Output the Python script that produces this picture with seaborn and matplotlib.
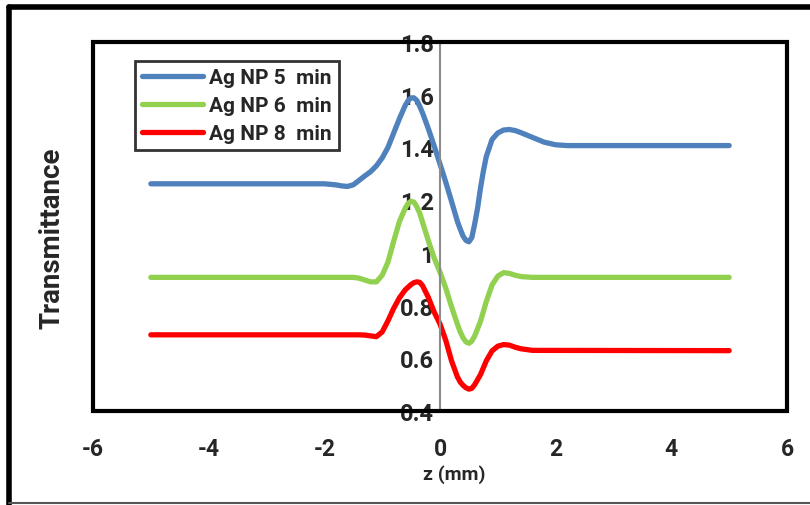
import matplotlib
matplotlib.use('Agg')

import numpy as np
import pandas as pd
import matplotlib.pyplot as plt
import seaborn as sns
from matplotlib.patches import Rectangle
from matplotlib.lines import Line2D

# z position (mm) and transmittance
z5 = [-5, -2, -1.8, -1.7, -1.6, -1.5, -1.4, -1.3, -1.2, -1.1, -1.0, -0.9, -0.8, -0.7,
      -0.6, -0.55, -0.5, -0.45, -0.4, -0.35, -0.3, -0.2, -0.1, 0, 0.1, 0.2, 0.3, 0.35,
      0.4, 0.45, 0.5, 0.55, 0.6, 0.65, 0.7, 0.75, 0.8, 0.9, 1.0, 1.1, 1.2, 1.3, 1.4,
      1.6, 1.8, 2.0, 2.2, 5]
t5 = [1.262, 1.262, 1.258, 1.254, 1.252, 1.258, 1.275, 1.292, 1.308, 1.330, 1.360,
      1.400, 1.455, 1.510, 1.560, 1.578, 1.588, 1.588, 1.578, 1.556, 1.530, 1.470,
      1.405, 1.337, 1.268, 1.195, 1.120, 1.090, 1.063, 1.047, 1.042, 1.058, 1.110,
      1.170, 1.245, 1.310, 1.365, 1.430, 1.455, 1.466, 1.468, 1.464, 1.456, 1.438,
      1.420, 1.410, 1.407, 1.407]

z6 = [-5, -1.5, -1.4, -1.3, -1.2, -1.1, -1.0, -0.9, -0.8, -0.7, -0.6, -0.55, -0.5,
      -0.45, -0.4, -0.35, -0.3, -0.2, -0.1, 0, 0.1, 0.2, 0.3, 0.35, 0.4, 0.45, 0.5,
      0.55, 0.6, 0.7, 0.8, 0.9, 1.0, 1.1, 1.2, 1.3, 1.4, 1.6, 5]
t6 = [0.907, 0.907, 0.904, 0.897, 0.890, 0.890, 0.915, 0.965, 1.045, 1.120, 1.170,
      1.188, 1.196, 1.192, 1.175, 1.150, 1.115, 1.045, 0.980, 0.927, 0.866, 0.795,
      0.730, 0.700, 0.677, 0.662, 0.657, 0.665, 0.685, 0.740, 0.815, 0.878, 0.912,
      0.925, 0.922, 0.915, 0.910, 0.907, 0.907]

z8 = [-5, -1.4, -1.3, -1.2, -1.1, -1.0, -0.9, -0.8, -0.7, -0.6, -0.5, -0.45, -0.4,
      -0.35, -0.3, -0.2, -0.1, 0, 0.1, 0.2, 0.3, 0.35, 0.4, 0.45, 0.5, 0.55, 0.6,
      0.7, 0.8, 0.9, 1.0, 1.1, 1.2, 1.3, 1.4, 1.6, 5]
t8 = [0.689, 0.689, 0.688, 0.685, 0.682, 0.700, 0.742, 0.790, 0.830, 0.860, 0.880,
      0.887, 0.890, 0.888, 0.875, 0.830, 0.775, 0.730, 0.668, 0.590, 0.530, 0.510,
      0.497, 0.488, 0.483, 0.486, 0.500, 0.538, 0.590, 0.628, 0.646, 0.652, 0.650,
      0.642, 0.636, 0.630, 0.629]

labels = ['Ag NP 5  min', 'Ag NP 6  min', 'Ag NP 8  min']
colors = ['#4F81BD', '#92D050', '#FF0000']
xticks = [-6, -4, -2, 0, 2, 4, 6]
yticks = [0.4, 0.6, 0.8, 1.0, 1.2, 1.4, 1.6, 1.8]
ytick_labels = ['0.4', '0.6', '0.8', '1', '1.2', '1.4', '1.6', '1.8']

df = pd.concat([
    pd.DataFrame({'z': zz, 'T': tt, 'sample': lab})
    for zz, tt, lab in zip([z5, z6, z8], [t5, t6, t8], labels)
])

sns.set_style('white')
plt.rcParams['font.family'] = ['Roboto', 'DejaVu Sans']
plt.rcParams['font.weight'] = 'bold'

fig = plt.figure(figsize=(8.1, 5.06), dpi=100)
ax = fig.add_axes([93 / 810, 1 - 412 / 506, 694 / 810, 369 / 506])

sns.lineplot(data=df, x='z', y='T', hue='sample', palette=colors,
             linewidth=3.8, ax=ax, legend=False, sort=False)
for ln in ax.lines:
    ln.set_solid_joinstyle('round')
    ln.set_solid_capstyle('round')

# Excel style axes: y axis crossing at z=0 (set before the ticks, it resets them)
for s in ['top', 'right']:
    ax.spines[s].set_visible(False)
ax.spines['left'].set_position(('data', 0))
ax.spines['left'].set_color('#8c8c8c')
ax.spines['left'].set_linewidth(1.5)
ax.spines['bottom'].set_color('#8c8c8c')
ax.spines['bottom'].set_linewidth(1.5)

ax.set_xlim(-6, 6)
ax.set_ylim(0.4, 1.8)
ax.set_xticks(xticks)
ax.set_yticks(yticks)
ax.set_xticklabels([str(v) for v in xticks], fontweight='bold')
ax.set_yticklabels(ytick_labels, fontweight='bold')
ax.tick_params(axis='y', direction='inout', length=9, width=1.5, color='#8c8c8c',
               labelsize=17, pad=0)
ax.tick_params(axis='x', direction='out', length=6, width=1.5, color='#8c8c8c',
               labelsize=16.5, pad=13)

# thick plot-area frame
ax.add_patch(Rectangle((0, 0), 1, 1, transform=ax.transAxes, fill=False,
                       edgecolor='black', linewidth=3, clip_on=False, zorder=5))

ax.set_xlabel('z (mm)', fontsize=14, fontweight='bold')
ax.xaxis.set_label_coords(0.52, -0.145)
ax.set_ylabel('')
fig.text(52 / 810, 1 - 238 / 506, 'Transmittance', rotation=90, fontsize=20,
         fontweight='bold', ha='center', va='center')

handles = [Line2D([], [], color=c, linewidth=3.8, solid_capstyle='round') for c in colors]
leg = ax.legend(handles, labels, loc='upper left', bbox_to_anchor=(0.0605, 0.9485),
                borderaxespad=0, frameon=True, fancybox=False, handlelength=2.9,
                labelspacing=0.42, handletextpad=0.3, borderpad=0.35,
                prop={'weight': 'bold', 'size': 15})
leg.get_frame().set_edgecolor('black')
leg.get_frame().set_linewidth(2)
leg.set_zorder(6)

# outer chart border
fig.add_artist(Line2D([9 / 810, 9 / 810], [0, 1 - 8 / 506], color='black', linewidth=4))
fig.add_artist(Line2D([9 / 810, 1], [1 - 8 / 506, 1 - 8 / 506], color='black', linewidth=4))
fig.add_artist(Line2D([9 / 810, 1], [2.5 / 506, 2.5 / 506], color='#555555', linewidth=1.5))

fig.savefig('out.png', dpi=100)
